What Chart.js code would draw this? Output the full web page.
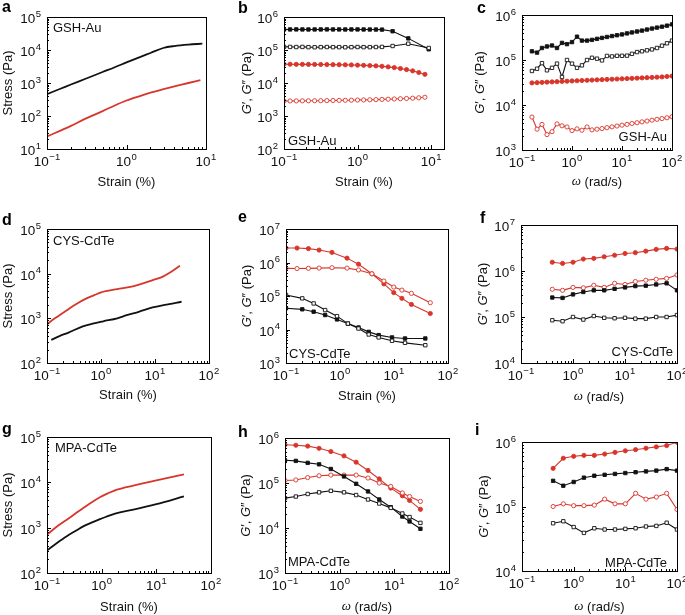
<!DOCTYPE html>
<html>
<head>
<meta charset="utf-8">
<script src="https://cdn.jsdelivr.net/npm/chart.js@4.4.1/dist/chart.umd.min.js"></script>
<style>
  html, body { margin: 0; padding: 0; background: #fff; }
  #fig { position: relative; width: 685px; height: 615px; overflow: hidden; font-family: "Liberation Sans", Arial, sans-serif; }
  #fig canvas { position: absolute; }
  .letter { position: absolute; font-weight: bold; font-size: 16px; line-height: 16px; color: #000; }
</style>
</head>
<body>
<div id="fig"></div>
<script>
"use strict";

// ---------- tick values ----------
const strainTicksAB = [0.1, 1, 10];
const decadeTicks = [0.1, 1, 10, 100];
const stressTicksA = [1e1, 1e2, 1e3, 1e4, 1e5];
const stressTicksDG = [1e2, 1e3, 1e4, 1e5];
const modTicksB = [1e2, 1e3, 1e4, 1e5, 1e6];
const modTicksCH = [1e3, 1e4, 1e5, 1e6];
const modTicksE = [1e3, 1e4, 1e5, 1e6, 1e7];
const modTicksF = [1e4, 1e5, 1e6, 1e7];
const modTicksI = [1e4, 1e5, 1e6];

// ---------- a: GSH-Au stress ----------
const aStrainBlack = [0.1, 0.15, 0.2, 0.3, 0.5, 0.7, 1, 1.5, 2, 2.9, 4, 6, 9];
const aStressBlack = [460, 680, 900, 1320, 2150, 2950, 4200, 6200, 8100, 11500, 13200, 14600, 15500];
const aStrainRed = [0.1, 0.2, 0.3, 0.5, 0.7, 1, 1.5, 2, 3, 4, 6, 8.5];
const aStressRed = [24, 50, 82, 140, 205, 295, 410, 510, 660, 790, 1000, 1230];

// ---------- b: GSH-Au strain sweep ----------
const bStrain = [0.1, 0.121, 0.147, 0.178, 0.215, 0.261, 0.316, 0.383, 0.464, 0.562, 0.681, 0.825,
                 1, 1.21, 1.47, 1.78, 2.15, 2.61, 3.16, 3.83, 4.64, 5.62, 6.81, 8.25];
const bStrainBlack = [0.1, 0.121, 0.147, 0.178, 0.215, 0.261, 0.316, 0.383, 0.464, 0.562, 0.681, 0.825,
                      1, 1.21, 1.47, 1.78, 2.15, 3.0, 4.9, 9.3];
const bGpBlack = [420000, 420000, 421000, 420000, 419000, 420000, 420000, 421000, 420000, 420000, 419000, 420000,
                  420000, 419000, 418000, 417000, 415000, 370000, 225000, 105000];
const bGppBlack = [125000, 124000, 123000, 124000, 122000, 121000, 122000, 123000, 122000, 122000, 121000, 122000,
                   123000, 122000, 122000, 123000, 124000, 132000, 155000, 115000];
const bGpRed = [37000, 37000, 36800, 36700, 36600, 36500, 36400, 36200, 36000, 35800, 35500, 35200,
                34800, 34300, 33700, 33000, 32000, 30800, 29300, 27500, 25500, 23300, 20800, 18300];
const bGppRed = [2850, 2860, 2870, 2880, 2890, 2900, 2910, 2930, 2950, 2970, 2990, 3010,
                 3040, 3070, 3100, 3140, 3180, 3230, 3280, 3340, 3400, 3470, 3560, 3700];

// ---------- c: GSH-Au frequency sweep ----------
const cOmega = [0.158, 0.2, 0.251, 0.316, 0.398, 0.501, 0.631, 0.794, 1, 1.26, 1.58, 2, 2.51, 3.16, 3.98,
                5.01, 6.31, 7.94, 10, 12.6, 15.8, 20, 25.1, 31.6, 39.8, 50.1, 63.1, 79.4, 100];
const cGpBlack = [156000, 146000, 185000, 200000, 210000, 185000, 240000, 225000, 250000, 330000, 270000, 270000,
                  280000, 295000, 310000, 325000, 340000, 355000, 370000, 390000, 410000, 430000, 450000, 475000,
                  500000, 525000, 550000, 580000, 620000];
const cGppBlack = [57000, 64000, 85000, 59000, 67000, 83000, 42000, 100000, 83000, 67000, 76000, 100000,
                   112000, 107000, 98000, 123000, 120000, 124000, 124000, 125000, 137000, 150000, 156000, 164000,
                   172000, 185000, 208000, 235000, 270000];
const cGpRed = [31000, 31400, 31800, 32200, 32600, 33000, 33400, 33800, 34200, 34600, 35000, 35400, 35800,
                36200, 36600, 37000, 37400, 37800, 38200, 38600, 39000, 39500, 40000, 40500, 41000, 41500,
                42000, 43000, 44000];
const cGppRed = [5400, 2900, 3700, 2200, 2550, 3800, 3450, 3250, 2700, 2950, 2750, 3250, 2800,
                 2900, 3000, 3130, 3270, 3410, 3560, 3710, 3880, 4040, 4220, 4400, 4600, 4800, 5000, 5200, 5500];

// ---------- d: CYS-CdTe stress ----------
const dStrainRed = [0.1, 0.14, 0.23, 0.35, 0.54, 0.75, 1, 2, 3.9, 9.1, 14, 20, 29];
const dStressRed = [740, 1000, 1500, 2100, 2800, 3300, 3800, 4500, 5200, 7200, 8600, 11000, 15000];
const dStrainBlack = [0.12, 0.17, 0.25, 0.46, 0.7, 1.1, 2, 3, 5, 9, 15, 31];
const dStressBlack = [330, 400, 480, 660, 760, 860, 1000, 1180, 1400, 1750, 2000, 2350];

// ---------- e: CYS-CdTe strain sweep ----------
const eStrainRed = [0.1, 0.16, 0.26, 0.41, 0.71, 1.35, 2.2, 3.9, 6.5, 9.9, 14, 21, 47];
const eGpRed = [2.7e6, 2.7e6, 2.6e6, 2.35e6, 2.0e6, 1.35e6, 8.9e5, 4.6e5, 2.3e5, 1.26e5, 8.5e4, 5.6e4, 3.0e4];
const eGppRed = [6.7e5, 6.6e5, 6.7e5, 6.8e5, 7.0e5, 6.8e5, 6.0e5, 4.6e5, 2.8e5, 1.85e5, 1.5e5, 1.2e5, 6.3e4];
const eStrainBlack = [0.1, 0.2, 0.325, 0.53, 0.88, 1.4, 2.2, 3.4, 5.2, 9.2, 16, 38];
const eGpBlack = [4.3e4, 4.0e4, 3.4e4, 2.7e4, 2.0e4, 1.5e4, 1.15e4, 8.5e3, 6.8e3, 5.8e3, 5.4e3, 5.4e3];
const eGppBlack = [1.07e5, 8.5e4, 6.0e4, 3.8e4, 2.5e4, 1.5e4, 1.07e4, 7.1e3, 5.8e3, 4.6e3, 4.0e3, 3.4e3];

// ---------- f: CYS-CdTe frequency sweep ----------
const fOmega = [0.4, 0.63, 1, 1.58, 2.51, 3.98, 6.31, 10, 15.8, 25.1, 39.8, 63.1, 100];
const fGpRed = [1.55e6, 1.46e6, 1.55e6, 1.82e6, 1.88e6, 2.04e6, 2.2e6, 2.4e6, 2.5e6, 2.7e6, 2.95e6, 3.1e6, 3.0e6];
const fGppRed = [4.0e5, 3.8e5, 4.4e5, 4.3e5, 4.9e5, 4.4e5, 5.4e5, 5.1e5, 5.9e5, 6.3e5, 6.6e5, 6.9e5, 8.2e5];
const fGpBlack = [2.65e5, 2.6e5, 3.1e5, 3.5e5, 3.8e5, 3.8e5, 4.1e5, 4.4e5, 4.7e5, 4.8e5, 5.1e5, 5.4e5, 3.8e5];
const fGppBlack = [8.5e4, 8.1e4, 1.0e5, 8.8e4, 1.05e5, 9.6e4, 9.4e4, 9.6e4, 9.2e4, 9.2e4, 1.0e5, 1.0e5, 1.1e5];

// ---------- g: MPA-CdTe stress ----------
const gStrain = [0.1, 0.15, 0.23, 0.35, 0.46, 0.65, 0.93, 1.3, 1.9, 3.8, 10, 32];
const gStressRed = [700, 1050, 1500, 2150, 2700, 3600, 4700, 5700, 6900, 8500, 11000, 15000];
const gStressBlack = [316, 455, 650, 880, 1070, 1290, 1550, 1790, 2100, 2500, 3300, 4900];

// ---------- h: MPA-CdTe (omega) ----------
const hOmega = [0.1, 0.158, 0.26, 0.42, 0.69, 1.2, 2.0, 3.3, 5.3, 8.6, 14, 19, 30];
const hGpRed = [7.1e5, 6.9e5, 6.6e5, 5.9e5, 5.0e5, 4.0e5, 2.9e5, 1.9e5, 1.23e5, 7.7e4, 5.2e4, 4.1e4, 2.6e4];
const hGppRed = [1.14e5, 1.17e5, 1.32e5, 1.45e5, 1.5e5, 1.5e5, 1.5e5, 1.29e5, 1.0e5, 8.4e4, 6.0e4, 5.0e4, 3.9e4];
const hGpBlack = [3.2e5, 3.1e5, 2.8e5, 2.6e5, 2.05e5, 1.4e5, 9.6e4, 6.5e4, 4.3e4, 2.9e4, 1.8e4, 1.4e4, 9.6e3];
const hGppBlack = [4.6e4, 5.0e4, 5.7e4, 6.2e4, 6.7e4, 6.2e4, 5.4e4, 4.3e4, 3.5e4, 2.8e4, 2.1e4, 1.75e4, 1.3e4];

// ---------- i: MPA-CdTe frequency sweep ----------
const iOmega = [0.4, 0.63, 1, 1.58, 2.51, 3.98, 6.31, 10, 15.8, 25.1, 39.8, 63.1, 100];
const iGpRed = [3.9e5, 5.6e5, 6.0e5, 6.2e5, 6.2e5, 6.5e5, 6.9e5, 7.3e5, 7.6e5, 8.0e5, 8.4e5, 8.8e5, 9.9e5];
const iGpBlack = [2.5e5, 2.1e5, 2.4e5, 2.8e5, 3.0e5, 3.1e5, 3.2e5, 3.3e5, 3.4e5, 3.5e5, 3.6e5, 3.8e5, 3.6e5];
const iGppRed = [1.0e5, 1.1e5, 1.03e5, 1.03e5, 1.05e5, 1.3e5, 1.1e5, 1.1e5, 1.6e5, 1.3e5, 1.4e5, 1.6e5, 9.0e4];
const iGppBlack = [5.5e4, 5.9e4, 4.8e4, 3.9e4, 4.6e4, 4.4e4, 4.4e4, 4.5e4, 4.6e4, 4.9e4, 5.0e4, 5.6e4, 4.4e4];

const panelLetters = ['a', 'b', 'c', 'd', 'e', 'f', 'g', 'h', 'i'];

// ---------- styling ----------
const FONT = '"Liberation Sans", Arial, sans-serif';
const SERIF = '"Liberation Serif", "DejaVu Serif", serif';
const RED = '#d8352b';
const BLK = '#111111';
const YW = 50, PT = 16, XH = 45, PR = 16;

// axis titles as styled pieces: [text, style, family]
const STRAIN = [['Strain (%)', '', FONT]];
const STRESS = [['Stress (Pa)', '', FONT]];
const MODULI = [['G', 'italic', FONT], ['\u2032, ', '', FONT], ['G', 'italic', FONT], ['\u2033 (Pa)', '', FONT]];
const OMEGA = [['\u03c9', 'italic', SERIF], [' (rad/s)', '', FONT]];

function smooth(xs, ys, c) {
  return { data: xs.map((x, i) => ({ x: x, y: ys[i] })), borderColor: c, borderWidth: 1.8,
           pointRadius: 0, cubicInterpolationMode: 'monotone', fill: false };
}
function marked(xs, ys, c, shape, filled) {
  return { data: xs.map((x, i) => ({ x: x, y: ys[i] })), borderColor: c, borderWidth: 1.1,
           pointStyle: shape, pointRadius: shape === 'rect' ? 2.4 : 2.1, pointBorderWidth: 0.9,
           pointBorderColor: c, pointBackgroundColor: filled ? c : '#fff', tension: 0, fill: false };
}

const panels = [
  { L: 47, T: 17, R: 206, B: 149, x: [0.1, 10], y: [10, 1e5], xt: strainTicksAB, yt: stressTicksA,
    xTitle: STRAIN, yTitle: STRESS, yOff: 39, xOff: 33, tag: ['GSH-Au', 'left', 6, 'top', 11],
    sets: [smooth(aStrainBlack, aStressBlack, BLK), smooth(aStrainRed, aStressRed, RED)] },
  { L: 284, T: 17, R: 444, B: 149, x: [0.1, 15], y: [100, 1e6], xt: strainTicksAB, yt: modTicksB,
    xTitle: STRAIN, yTitle: MODULI, yOff: 37, xOff: 33, tag: ['GSH-Au', 'left', 4, 'bottom', -8],
    sets: [marked(bStrainBlack, bGppBlack, BLK, 'rect', false), marked(bStrainBlack, bGpBlack, BLK, 'rect', true),
           marked(bStrain, bGppRed, RED, 'circle', false), marked(bStrain, bGpRed, RED, 'circle', true)] },
  { L: 522, T: 15, R: 672, B: 150, x: [0.1, 100], y: [1e3, 1e6], xt: decadeTicks, yt: modTicksCH,
    xTitle: OMEGA, yTitle: MODULI, yOff: 42, xOff: 32, tag: ['GSH-Au', 'right', -5, 'bottom', -13],
    sets: [marked(cOmega, cGppBlack, BLK, 'rect', false), marked(cOmega, cGpBlack, BLK, 'rect', true),
           marked(cOmega, cGppRed, RED, 'circle', false), marked(cOmega, cGpRed, RED, 'circle', true)] },
  { L: 47, T: 229, R: 209, B: 363, x: [0.1, 100], y: [100, 1e5], xt: decadeTicks, yt: stressTicksDG,
    xTitle: STRAIN, yTitle: STRESS, yOff: 39, xOff: 32, tag: ['CYS-CdTe', 'left', 6, 'top', 12],
    sets: [smooth(dStrainBlack, dStressBlack, BLK), smooth(dStrainRed, dStressRed, RED)] },
  { L: 286, T: 229, R: 448, B: 363, x: [0.1, 100], y: [1e3, 1e7], xt: decadeTicks, yt: modTicksE,
    xTitle: STRAIN, yTitle: MODULI, yOff: 39, xOff: 33, tag: ['CYS-CdTe', 'left', 3, 'bottom', -9],
    sets: [marked(eStrainBlack, eGppBlack, BLK, 'rect', false), marked(eStrainBlack, eGpBlack, BLK, 'rect', true),
           marked(eStrainRed, eGppRed, RED, 'circle', false), marked(eStrainRed, eGpRed, RED, 'circle', true)] },
  { L: 521, T: 225, R: 677, B: 363, x: [0.1, 100], y: [1e4, 1e7], xt: decadeTicks, yt: modTicksF,
    xTitle: OMEGA, yTitle: MODULI, yOff: 38, xOff: 34, tag: ['CYS-CdTe', 'right', -4, 'bottom', -11],
    sets: [marked(fOmega, fGppBlack, BLK, 'rect', false), marked(fOmega, fGpBlack, BLK, 'rect', true),
           marked(fOmega, fGppRed, RED, 'circle', false), marked(fOmega, fGpRed, RED, 'circle', true)] },
  { L: 47, T: 437, R: 211, B: 573, x: [0.1, 100], y: [100, 1e5], xt: decadeTicks, yt: stressTicksDG,
    xTitle: STRAIN, yTitle: STRESS, yOff: 39, xOff: 34, tag: ['MPA-CdTe', 'left', 8, 'top', 11],
    sets: [smooth(gStrain, gStressBlack, BLK), smooth(gStrain, gStressRed, RED)] },
  { L: 285, T: 438, R: 449, B: 573, x: [0.1, 100], y: [1e3, 1e6], xt: decadeTicks, yt: modTicksCH,
    xTitle: OMEGA, yTitle: MODULI, yOff: 39, xOff: 34, tag: ['MPA-CdTe', 'left', 3, 'bottom', -11],
    sets: [marked(hOmega, hGppBlack, BLK, 'rect', false), marked(hOmega, hGpBlack, BLK, 'rect', true),
           marked(hOmega, hGppRed, RED, 'circle', false), marked(hOmega, hGpRed, RED, 'circle', true)] },
  { L: 522, T: 442, R: 677, B: 571, x: [0.1, 100], y: [1e4, 1e6], xt: decadeTicks, yt: modTicksI,
    xTitle: OMEGA, yTitle: MODULI, yOff: 38, xOff: 36, tag: ['MPA-CdTe', 'right', -10, 'bottom', -8],
    sets: [marked(iOmega, iGppBlack, BLK, 'rect', false), marked(iOmega, iGpBlack, BLK, 'rect', true),
           marked(iOmega, iGppRed, RED, 'circle', false), marked(iOmega, iGpRed, RED, 'circle', true)] }
];
const letterPos = [[2, -1.5], [238, -0.5], [477, -0.5], [2, 211.5], [238, 208.5], [480, 209.5],
                   [2, 420.5], [238, 423.5], [475, 421.5]];

function richText(ctx, pieces, cx, cy, rot) {
  ctx.save();
  ctx.translate(cx, cy);
  ctx.rotate(rot);
  ctx.textBaseline = 'middle';
  ctx.textAlign = 'left';
  let w = 0;
  pieces.forEach(p => { ctx.font = p[1] + ' 13px ' + p[2]; w += ctx.measureText(p[0]).width; });
  let x = -w / 2;
  pieces.forEach(p => {
    ctx.font = p[1] + ' 13px ' + p[2];
    ctx.fillText(p[0], x, 0);
    x += ctx.measureText(p[0]).width;
  });
  ctx.restore();
}

// "10" with a raised exponent; align 'center' (x axis) or 'right' (y axis)
function powerLabel(ctx, v, x, y, align) {
  const e = Math.round(Math.log10(v));
  const ex = e < 0 ? '\u2212' + (-e) : String(e);
  ctx.font = '13.5px ' + FONT;
  const w1 = ctx.measureText('10').width;
  ctx.font = '9.5px ' + FONT;
  const w2 = ctx.measureText(ex).width;
  const w = w1 + w2 + 0.5;
  const x0 = align === 'center' ? x - w / 2 : x - w;
  ctx.textAlign = 'left';
  ctx.textBaseline = 'alphabetic';
  ctx.font = '13.5px ' + FONT;
  ctx.fillText('10', x0, y);
  ctx.font = '9.5px ' + FONT;
  ctx.fillText(ex, x0 + w1 + 0.5, y - 6.5);
}

// inward log ticks, frame box, tick labels, axis titles and the sample tag
const frameTicks = {
  id: 'frameTicks',
  afterDatasetsDraw(chart, args, opts) {
    const { ctx, chartArea: a, scales } = chart;
    ctx.save();
    ctx.strokeStyle = '#000';
    ctx.lineWidth = 1;
    [scales.x, scales.y].forEach(s => {
      const horiz = s.isHorizontal();
      const lo = Math.floor(Math.log10(s.min)), hi = Math.ceil(Math.log10(s.max));
      for (let k = lo; k <= hi; k++) {
        for (let m = 1; m < 10; m++) {
          const v = m * Math.pow(10, k);
          if (v < s.min * 0.999 || v > s.max * 1.001) continue;
          const p = Math.round(s.getPixelForValue(v)) + 0.5;
          const len = m === 1 ? 4 : 2;
          ctx.beginPath();
          if (horiz) { ctx.moveTo(p, a.bottom); ctx.lineTo(p, a.bottom - len); }
          else { ctx.moveTo(a.left, p); ctx.lineTo(a.left + len, p); }
          ctx.stroke();
        }
      }
    });
    ctx.strokeRect(Math.round(a.left) + 0.5, Math.round(a.top) + 0.5,
                   Math.round(a.right - a.left), Math.round(a.bottom - a.top));
    ctx.fillStyle = '#111';
    scales.x.ticks.forEach(t => powerLabel(ctx, t.value, scales.x.getPixelForValue(t.value), a.bottom + 17, 'center'));
    scales.y.ticks.forEach(t => powerLabel(ctx, t.value, a.left - 6, scales.y.getPixelForValue(t.value) + 6, 'right'));
    richText(ctx, opts.xTitle, (a.left + a.right) / 2, a.bottom + opts.xOff, 0);
    richText(ctx, opts.yTitle, a.left - opts.yOff, (a.top + a.bottom) / 2, -Math.PI / 2);
    const [txt, hx, dx, vy, dy] = opts.tag;
    ctx.font = '13px ' + FONT;
    ctx.textAlign = hx;
    ctx.textBaseline = 'middle';
    ctx.fillText(txt, a[hx] + dx, a[vy] + dy);
    ctx.restore();
  }
};

const fig = document.getElementById('fig');
panels.forEach((p, n) => {
  const cv = document.createElement('canvas');
  cv.width = p.R - p.L + YW + PR;
  cv.height = p.B - p.T + PT + XH;
  cv.style.left = (p.L - YW) + 'px';
  cv.style.top = (p.T - PT) + 'px';
  fig.appendChild(cv);
  new Chart(cv, {
    type: 'line',
    data: { datasets: p.sets },
    plugins: [frameTicks],
    options: {
      responsive: false,
      animation: false,
      devicePixelRatio: 1,
      layout: { padding: { top: PT, right: PR, left: 0, bottom: 0 } },
      plugins: {
        legend: { display: false },
        tooltip: { enabled: false },
        frameTicks: { tag: p.tag, xTitle: p.xTitle, yTitle: p.yTitle, xOff: p.xOff, yOff: p.yOff }
      },
      scales: {
        x: {
          type: 'logarithmic', min: p.x[0], max: p.x[1],
          grid: { display: false }, border: { display: false },
          afterBuildTicks: s => { s.ticks = p.xt.map(v => ({ value: v })); },
          afterFit: s => { s.height = XH; },
          ticks: { display: false },
          title: { display: false }
        },
        y: {
          type: 'logarithmic', min: p.y[0], max: p.y[1],
          grid: { display: false }, border: { display: false },
          afterBuildTicks: s => { s.ticks = p.yt.map(v => ({ value: v })); },
          afterFit: s => { s.width = YW; },
          ticks: { display: false },
          title: { display: false }
        }
      }
    }
  });
  const d = document.createElement('div');
  d.className = 'letter';
  d.textContent = panelLetters[n];
  d.style.left = letterPos[n][0] + 'px';
  d.style.top = letterPos[n][1] + 'px';
  fig.appendChild(d);
});
</script>
</body>
</html>
